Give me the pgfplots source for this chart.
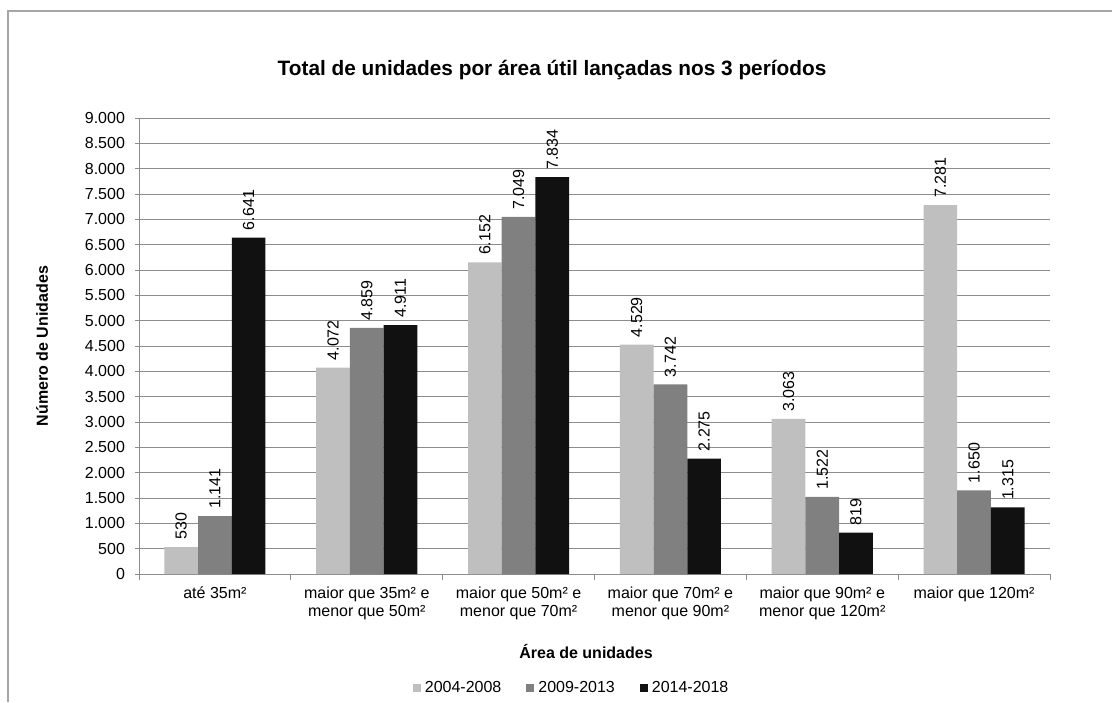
\documentclass[border=0pt]{standalone}
\usepackage{pgfplots}
\pgfplotsset{compat=1.18}
\usepackage{fontspec}
\setmainfont{Liberation Sans}
\definecolor{cLight}{RGB}{191,191,191}
\definecolor{cMid}{RGB}{128,128,128}
\definecolor{cDark}{RGB}{17,17,17}
\definecolor{gridgray}{RGB}{140,140,140}
\definecolor{framegray}{RGB}{166,166,166}
\pgfkeys{/pgf/number format/.cd, fixed, precision=0, 1000 sep={.}, assume math mode=true}
\begin{document}
\begin{tikzpicture}
\useasboundingbox (0,0) rectangle (556pt,351pt);
\draw[framegray, line width=0.6pt] (4pt,0) -- (4pt,345.5pt) -- (556pt,345.5pt);
\begin{axis}[
    at={(69.5pt,64pt)}, anchor=south west,
    scale only axis, width=455.5pt, height=228pt,
    ybar=0pt, bar width=16.85pt,
    xmin=-0.5, xmax=5.5, ymin=0, ymax=9000,
    axis x line*=bottom, axis y line*=left,
    axis line style={gridgray, line width=0.5pt},
    tick align=outside,
    xtick={0,...,5},
    xticklabels={{até 35m²},{maior que 35m² e\\menor que 50m²},{maior que 50m² e\\menor que 70m²},{maior que 70m² e\\menor que 90m²},{maior que 90m² e\\menor que 120m²},{maior que 120m²}},
    major x tick style={draw=none},
    minor xtick={-0.5,0.5,...,5.5},
    minor x tick style={gridgray, line width=0.5pt},
    minor tick length=3pt,
    ytick={0,500,...,9000},
    scaled y ticks=false,
    major tick length=2pt,
    y tick style={gridgray, line width=0.5pt},
    ymajorgrids,
    major grid style={gridgray, line width=0.5pt},
    ticklabel style={font=\fontsize{8}{9}\selectfont},
    xticklabel style={align=center, yshift=-1pt},
    yticklabel style={xshift=-1.5pt},
    title={Total de unidades por área útil lançadas nos 3 períodos},
    title style={at={(0.4534,1.1096)}, anchor=center, yshift=-7pt, font=\bfseries\fontsize{10.4}{12}\selectfont},
    xlabel={Área de unidades},
    xlabel style={at={(axis description cs:0.4907,-0.171)}, anchor=center, font=\bfseries\fontsize{8}{9.6}\selectfont},
    ylabel={Número de Unidades},
    ylabel style={at={(axis description cs:-0.1065,0.5)}, anchor=center, font=\bfseries\fontsize{8}{9.6}\selectfont},
    nodes near coords,
    every node near coord/.append style={rotate=90, anchor=west, inner xsep=3.5pt, black, font=\fontsize{8}{9.6}\selectfont},
    legend image code/.code={\fill[#1] (0pt,-2pt) rectangle (4pt,2pt);},
    legend style={at={(0.476,-0.25)}, anchor=center, draw=none, legend columns=-1,
        font=\fontsize{8}{9.6}\selectfont,
        /tikz/every even column/.append style={column sep=10.5pt}},
]
\addplot[fill=cLight, draw=none] coordinates {(0,530) (1,4072) (2,6152) (3,4529) (4,3063) (5,7281)};
\addplot[fill=cMid, draw=none] coordinates {(0,1141) (1,4859) (2,7049) (3,3742) (4,1522) (5,1650)};
\addplot[fill=cDark, draw=none] coordinates {(0,6641) (1,4911) (2,7834) (3,2275) (4,819) (5,1315)};
\legend{2004-2008,2009-2013,2014-2018}
\end{axis}
\end{tikzpicture}
\end{document}
